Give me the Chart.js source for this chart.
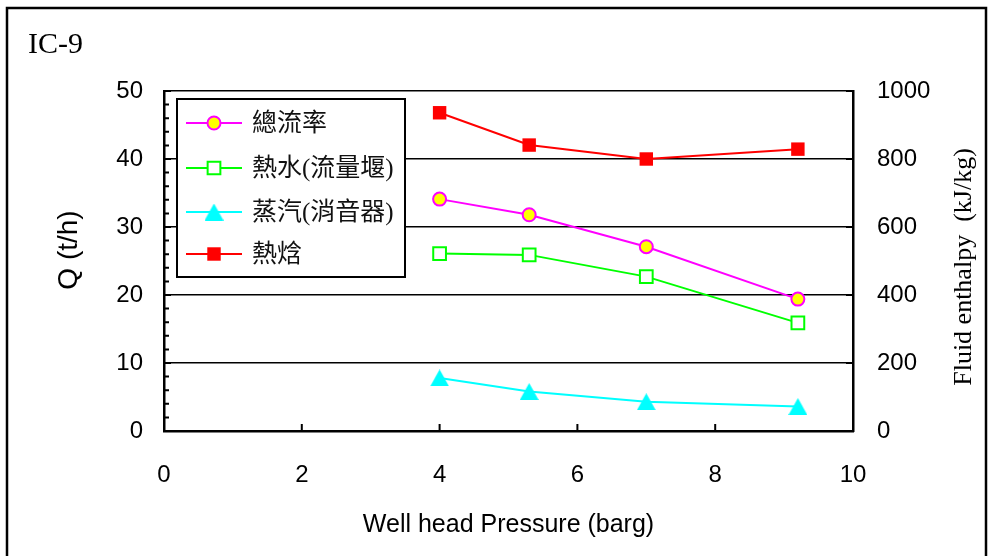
<!DOCTYPE html>
<html>
<head>
<meta charset="utf-8">
<script src="https://cdn.jsdelivr.net/npm/chart.js@4.4.0/dist/chart.umd.min.js"></script>
<style>
  body { margin: 0; background: #fff; }
  #wrap { width: 990px; height: 556px; position: relative; }
</style>
</head>
<body>
<div id="wrap"><canvas id="wellChart"></canvas></div>
<script>
// data
const pressure = [4.0, 5.3, 7.0, 9.2];          // barg
const totalFlow = [34.1, 31.8, 27.1, 19.4];     // t/h
const hotWater = [26.1, 25.9, 22.7, 15.9];      // t/h
const steam = [7.8, 5.8, 4.3, 3.6];             // t/h
const enthalpy = [936, 841, 800, 829];          // kJ/kg

const seriesNames = ['總流率', '熱水(流量堰)', '蒸汽(消音器)', '熱焓'];
const xTicks = [0, 2, 4, 6, 8, 10];
const yTicks = [0, 10, 20, 30, 40, 50];
const y1Ticks = [0, 200, 400, 600, 800, 1000];

const sans = "'Liberation Sans', Arial, sans-serif";
const serif = "'Liberation Serif', 'Times New Roman', 'Noto Sans CJK TC', serif";

// triangle marker centred on its bounding box (like the original)
const tri = document.createElement('canvas');
tri.width = 19; tri.height = 17;
const tctx = tri.getContext('2d');
tctx.fillStyle = '#00ffff';
tctx.beginPath();
tctx.moveTo(9.5, 0);
tctx.lineTo(19, 17);
tctx.lineTo(0, 17);
tctx.closePath();
tctx.fill();

const toPoints = ys => pressure.map((x, i) => ({ x: x, y: ys[i] }));

// frame, extra titles, inward ticks and the boxed legend
const decor = {
    id: 'decor',
    beforeDraw(chart) {
        const ctx = chart.ctx;
        ctx.save();
        ctx.fillStyle = '#fff';
        ctx.fillRect(0, 0, chart.width, chart.height);
        ctx.strokeStyle = '#000';
        ctx.lineWidth = 2.5;
        ctx.strokeRect(7, 8, 979, 560);
        ctx.restore();
    },
    afterDraw(chart) {
        const ctx = chart.ctx;
        const area = chart.chartArea;
        const sx = chart.scales.x, sy = chart.scales.y, sy1 = chart.scales.y1;
        ctx.save();
        ctx.strokeStyle = '#000';
        ctx.lineWidth = 2;
        ctx.beginPath();
        xTicks.forEach(v => {
            const px = sx.getPixelForValue(v);
            ctx.moveTo(px, area.bottom);
            ctx.lineTo(px, area.bottom - 7);
        });
        for (let v = 0; v <= 50; v += 2) {
            const py = sy.getPixelForValue(v);
            ctx.moveTo(area.left, py);
            ctx.lineTo(area.left + (v % 10 === 0 ? 7 : 5), py);
        }
        y1Ticks.forEach(v => {
            const py = sy1.getPixelForValue(v);
            ctx.moveTo(area.right, py);
            ctx.lineTo(area.right - 7, py);
        });
        ctx.stroke();

        // titles
        ctx.fillStyle = '#000';
        ctx.font = '30px ' + serif;
        ctx.textAlign = 'left';
        ctx.textBaseline = 'alphabetic';
        ctx.fillText('IC-9', 28, 53);

        ctx.font = '28px ' + sans;
        ctx.textAlign = 'center';
        ctx.textBaseline = 'middle';
        ctx.save();
        ctx.translate(69, 250);
        ctx.rotate(-Math.PI / 2);
        ctx.fillText('Q (t/h)', 0, 0);
        ctx.restore();

        ctx.font = '26px ' + serif;
        ctx.save();
        ctx.translate(964, 267);
        ctx.rotate(-Math.PI / 2);
        ctx.fillText('Fluid enthalpy  (kJ/kg)', 0, 0);
        ctx.restore();

        // legend box
        const lx = 177, ly = 99, lw = 228, lh = 178;
        ctx.fillStyle = '#fff';
        ctx.fillRect(lx, ly, lw, lh);
        ctx.lineWidth = 2;
        ctx.strokeRect(lx, ly, lw, lh);
        const rows = [123, 168, 212, 254];
        chart.data.datasets.forEach((ds, i) => {
            const y = rows[i];
            ctx.strokeStyle = ds.borderColor;
            ctx.lineWidth = 2;
            ctx.beginPath();
            ctx.moveTo(186, y);
            ctx.lineTo(242, y);
            ctx.stroke();
            ctx.fillStyle = ds.pointBackgroundColor;
            ctx.strokeStyle = ds.pointBorderColor;
            ctx.lineWidth = ds.pointBorderWidth;
            Chart.helpers.drawPoint(ctx, {
                pointStyle: ds.pointStyle,
                radius: ds.pointRadius,
                borderWidth: ds.pointBorderWidth,
                rotation: 0
            }, 214, y);
            ctx.fillStyle = '#111';
            ctx.font = '25px ' + serif;
            ctx.textAlign = 'left';
            ctx.textBaseline = 'middle';
            ctx.fillText(ds.label, 252, y + 1);
        });
        ctx.restore();
    }
};

const ctx = document.getElementById('wellChart').getContext('2d');

const wellChart = new Chart(ctx, {
    type: 'line',
    data: {
        datasets: [{
            label: seriesNames[0],
            data: toPoints(totalFlow),
            borderColor: '#ff00ff',
            borderWidth: 2,
            pointStyle: 'circle',
            pointRadius: 6.5,
            pointBorderWidth: 2,
            pointBackgroundColor: '#ffff00',
            pointBorderColor: '#ff00ff',
            yAxisID: 'y'
        }, {
            label: seriesNames[1],
            data: toPoints(hotWater),
            borderColor: '#00ff00',
            borderWidth: 2,
            pointStyle: 'rect',
            pointRadius: 9,
            pointBorderWidth: 2,
            pointBackgroundColor: '#ffffff',
            pointBorderColor: '#00ff00',
            yAxisID: 'y'
        }, {
            label: seriesNames[2],
            data: toPoints(steam),
            borderColor: '#00ffff',
            borderWidth: 2,
            pointStyle: tri,
            pointRadius: 10,
            pointBorderWidth: 0,
            pointBackgroundColor: '#00ffff',
            pointBorderColor: '#00ffff',
            yAxisID: 'y'
        }, {
            label: seriesNames[3],
            data: toPoints(enthalpy),
            borderColor: '#ff0000',
            borderWidth: 2,
            pointStyle: 'rect',
            pointRadius: 9.5,
            pointBorderWidth: 0,
            pointBackgroundColor: '#ff0000',
            pointBorderColor: '#ff0000',
            yAxisID: 'y1'
        }]
    },
    options: {
        responsive: true,
        maintainAspectRatio: false,
        animation: false,
        layout: { padding: { top: 91, left: 0, right: 0, bottom: 0 } },
        plugins: {
            legend: { display: false },
            tooltip: { enabled: false }
        },
        scales: {
            x: {
                type: 'linear',
                min: 0,
                max: 10,
                afterBuildTicks: s => { s.ticks = xTicks.map(v => ({ value: v })); },
                afterFit: s => { s.height = 125; },
                grid: { display: false, drawTicks: false },
                border: { display: true, color: '#000', width: 2.5 },
                ticks: { padding: 30, color: '#000', font: { family: sans, size: 24 }, callback: v => String(v) },
                title: {
                    display: true,
                    text: 'Well head Pressure (barg)',
                    color: '#000',
                    font: { family: sans, size: 25 },
                    padding: { top: 0, bottom: 16 }
                }
            },
            y: {
                position: 'left',
                min: 0,
                max: 50,
                afterBuildTicks: s => { s.ticks = yTicks.map(v => ({ value: v })); },
                afterFit: s => { s.width = 164; },
                grid: { color: '#000', lineWidth: 1.5, drawTicks: false },
                border: { display: true, color: '#000', width: 2.5 },
                ticks: { padding: 21, color: '#000', font: { family: sans, size: 24 }, callback: v => String(v) }
            },
            y1: {
                position: 'right',
                min: 0,
                max: 1000,
                afterBuildTicks: s => { s.ticks = y1Ticks.map(v => ({ value: v })); },
                afterFit: s => { s.width = 137; },
                grid: { display: false, drawTicks: false },
                border: { display: true, color: '#000', width: 2.5 },
                ticks: { padding: 24, color: '#000', font: { family: sans, size: 24 }, callback: v => String(v) }
            }
        }
    },
    plugins: [decor]
});
</script>
</body>
</html>
